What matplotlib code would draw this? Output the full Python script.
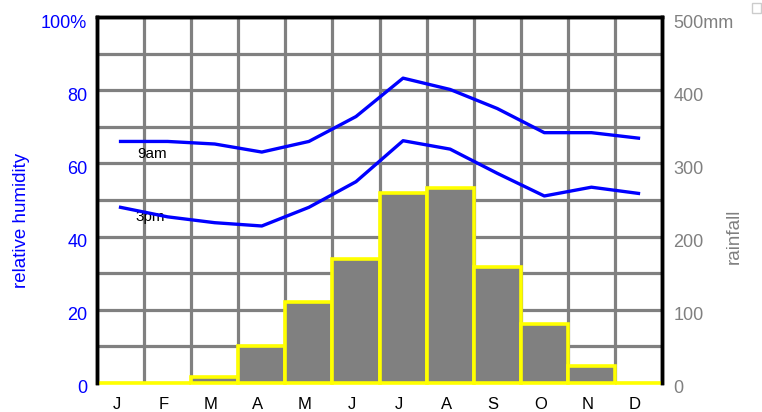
import matplotlib
matplotlib.use('Agg')
from matplotlib import pyplot as plt
import matplotlib.patches as mpatches
import matplotlib.transforms as mtransforms
import numpy as np

plt.rcParams['font.family'] = ['Liberation Sans', 'DejaVu Sans']

# monthly climate data
months = ['J', 'F', 'M', 'A', 'M', 'J', 'J', 'A', 'S', 'O', 'N', 'D']
rain_mm = [0, 0, 8, 50, 110, 170, 259, 267, 158, 80, 23, 0]
hum_9am = [66, 66, 65.3, 63.1, 66, 72.8, 83.3, 80.2, 75, 68.4, 68.4, 66.9]
hum_3pm = [48, 45.4, 43.8, 42.9, 48, 55, 66.2, 63.9, 57.3, 51.1, 53.5, 51.8]

rain_ticks = [0, 100, 200, 300, 400, 500]
rain_labels = ['0', '100', '200', '300', '400', '500mm']
hum_ticks = [0, 20, 40, 60, 80, 100]
hum_labels = ['0', '20', '40', '60', '80', '100%']

blue = '#0000ff'
grey = '#808080'

fig = plt.figure(figsize=(7.62, 4.12), dpi=100)
ax = fig.add_axes([0.1273, 0.0704, 0.7415, 0.8883])
# humidity lines go on a twin axes (left scale), drawn above the bars
axh = ax.twinx()

x = np.arange(len(months))

# rainfall bars on the base axes (right scale)
ax.bar(x, rain_mm, width=1.0, align='edge', color=grey, edgecolor='#ffff00',
       linewidth=2.6, zorder=3, clip_on=False)
ax.set_xlim(0, 12)
ax.set_ylim(0, 500)

ax.set_xticks(x + 0.5)
ax.set_xticklabels(months, fontsize=12)
ax.set_xticks(np.arange(1, 12), minor=True)
ax.yaxis.tick_right()
ax.yaxis.set_label_position('right')
ax.set_yticks(rain_ticks)
ax.set_yticklabels(rain_labels, fontsize=13, color=grey)
ax.set_yticks(np.arange(50, 500, 100), minor=True)
ax.tick_params(axis='both', which='both', length=0)
ax.tick_params(axis='x', pad=10)
ax.tick_params(axis='y', pad=8)
ax.grid(which='minor', axis='x', color=grey, linewidth=2.3, zorder=1)
ax.grid(which='both', axis='y', color=grey, linewidth=2.3, zorder=1)
ax.set_axisbelow(True)
ax.set_ylabel('rainfall', color=grey, fontsize=13.5)
ax.yaxis.set_label_coords(1.113, 0.40)

axh.set_ylim(0, 100)
axh.yaxis.tick_left()
axh.yaxis.set_label_position('left')
axh.set_yticks(hum_ticks)
axh.set_yticklabels(hum_labels, fontsize=13, color=blue)
axh.tick_params(axis='y', length=0, pad=7)
axh.plot(x + 0.5, hum_9am, color=blue, linewidth=2.4, zorder=5)
axh.plot(x + 0.5, hum_3pm, color=blue, linewidth=2.4, zorder=5)
axh.text(0.85, 62.6, '9am', fontsize=11, va='center', ha='left')
axh.text(0.81, 45.4, '3pm', fontsize=11, va='center', ha='left')
axh.set_ylabel('relative humidity', color=blue, fontsize=13.5)
axh.yaxis.set_label_coords(-0.119, 0.445)

for a in (ax, axh):
    for side in ('left', 'right', 'top'):
        a.spines[side].set_linewidth(2.5)
        a.spines[side].set_color('black')
    a.spines['bottom'].set_visible(False)

# tick labels sit a little off their grid lines
shift = mtransforms.ScaledTranslation(0, -4 / 100, fig.dpi_scale_trans)
for lab in ax.get_yticklabels() + axh.get_yticklabels():
    lab.set_transform(lab.get_transform() + shift)
xshift = mtransforms.ScaledTranslation(-4 / 100, 0, fig.dpi_scale_trans)
for lab in ax.get_xticklabels():
    lab.set_transform(lab.get_transform() + xshift)

# small box in the top right corner
fig.add_artist(mpatches.Rectangle((752 / 762, 1 - 13 / 412), 9 / 762, 10 / 412,
                                  transform=fig.transFigure, fill=False,
                                  edgecolor='#cccccc', linewidth=1))

plt.savefig('out.png', dpi=100)
print("Plotting Done.")
